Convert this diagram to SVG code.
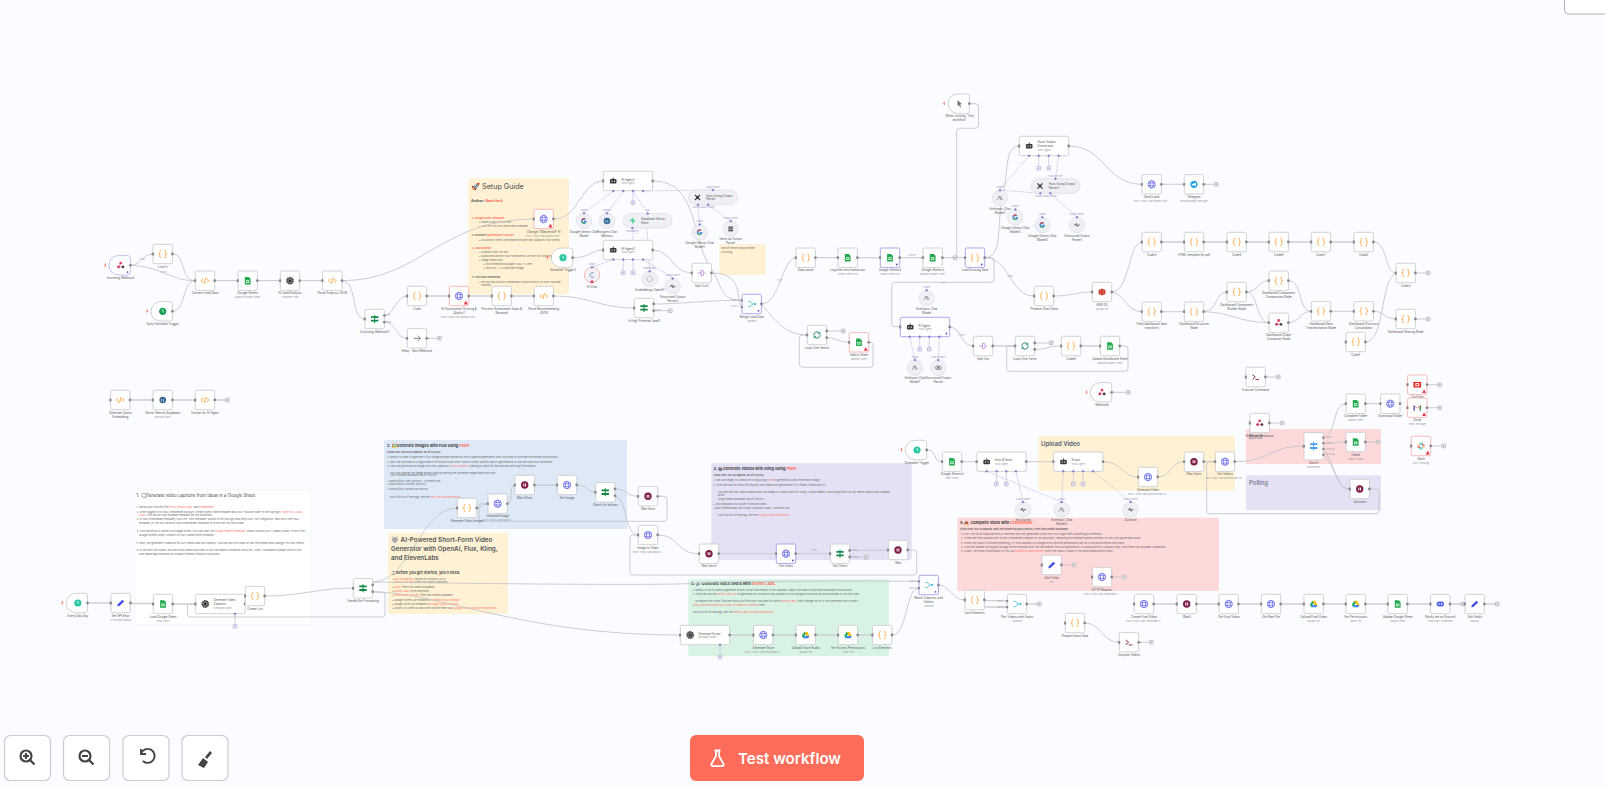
<svg xmlns="http://www.w3.org/2000/svg" width="1605" height="788" viewBox="0 0 1605 788">
<style>
text{font-family:"Inter","Liberation Sans",sans-serif}
.l{font-size:3px;fill:#555;text-anchor:middle}
.u{font-size:2.4px;fill:#999;text-anchor:middle}
.w{font-size:3px;fill:#555}
.wu{font-size:2.4px;fill:#999}
.e{font-size:2.3px;fill:#aaa;text-anchor:middle}
.k{font-size:2.2px;fill:#9a94c8;text-anchor:middle}
.t{font-size:2.65px;fill:#666}
.b{font-weight:700}
.p{fill:#ff6d5a}
.c{fill:none;stroke:#c2c4c9;stroke-width:.85}
.f{fill:none;stroke:#cfd0d4;stroke-width:1.3}
.d{fill:none;stroke:#bdb8e2;stroke-width:.8;stroke-dasharray:1.6 1.1}
.v{fill:none;stroke:#c9c9dc;stroke-width:.8}
.bx{fill:#fff;stroke:#c6c7cc;stroke-width:.8}
.pu{fill:#fff;stroke:#9c92e6;stroke-width:.8}
.re{fill:#fff;stroke:#f7a8a8;stroke-width:.8}
.ci{fill:#eff0f5;stroke:#dcdde4;stroke-width:.7}
.h{fill:#8a8b8e}
.tb{fill:#fff;stroke:#c9ccd1;stroke-width:1.2}
</style>
<defs>
<g id="hh"><rect class="h" x="-11" y="-1.4" width="2.2" height="2.8" rx=".5"/><circle class="h" cx="9.7" r="1.4"/></g>
<g id="bx"><rect class="bx" x="-9.7" y="-9.7" width="19.4" height="19.4" rx="1.3"/><use href="#hh"/></g>
<g id="bp"><rect class="pu" x="-9.7" y="-9.7" width="19.4" height="19.4" rx="1.3"/><use href="#hh"/><circle cx="6.8" cy="6.8" r=".9" fill="#5a4fd8"/></g>
<g id="br"><rect class="re" x="-9.7" y="-9.7" width="19.4" height="19.4" rx="1.3"/><use href="#hh"/><path d="M6.8 4.6l2 3.8h-4z" fill="#e8384f"/></g>
<g id="wb"><rect class="bx" x="-24.7" y="-9.7" width="49.4" height="19.4" rx="1.3"/><rect class="h" x="-26" y="-1.4" width="2.2" height="2.8" rx=".5"/><circle class="h" cx="24.7" r="1.4"/></g>
<g id="trg"><path class="bx" d="M-2-9.7H7a2.7 2.7 0 0 1 2.7 2.7V7A2.7 2.7 0 0 1 7 9.7H-2A9.7 9.7 0 0 1-2-9.7z"/><circle class="h" cx="9.7" r="1.4"/><path d="M-15.6-2l-1 2.4h1l-.6 2.2 1.8-2.8h-1l.7-1.8z" fill="#ff6d5a"/></g>
<g id="add"><rect x="-1.8" y="-1.8" width="3.6" height="3.6" rx=".5" fill="#fff" stroke="#96989e" stroke-width=".6"/><path d="M-.9 0h1.8M0-.9v1.8" stroke="#777" stroke-width=".45"/></g>
<g id="apu"><rect x="-1.8" y="-1.8" width="3.6" height="3.6" rx=".5" fill="#fff" stroke="#9a96cc" stroke-width=".6"/><path d="M-.9 0h1.8M0-.9v1.8" stroke="#8985c0" stroke-width=".45"/></g>
<path id="di" d="M0-1.5L1.5 0 0 1.5-1.5 0z" fill="#8783c6"/>
<g id="i-br" fill="none" stroke="#ff9d2e" stroke-width=".8"><path d="M-1.6-3.7c-1.6 0-1.2 1-1.2 2.2 0 1-.4 1.5-1.2 1.5.8 0 1.2.5 1.2 1.5 0 1.2-.4 2.2 1.2 2.2M1.6-3.7c1.6 0 1.2 1 1.2 2.2 0 1 .4 1.5 1.2 1.5-.8 0-1.2.5-1.2 1.5 0 1.2.4 2.2-1.2 2.2"/></g>
<g id="i-cd" fill="none" stroke="#ff9d2e" stroke-width=".9"><path d="M-1.9-2L-3.9 0l2 2M1.9-2L3.9 0l-2 2M.8-3L-.8 3"/></g>
<g id="i-sh"><path d="M-2.9-3.8H1L2.9-1.9V3.8H-2.9z" fill="#23a94f"/><rect x="-1.6" y="-.4" width="3.2" height="2.6" fill="#fff"/><rect x="-.9" y=".3" width="1.8" height="1.2" fill="#23a94f"/></g>
<g id="i-gl" fill="none" stroke="#5d62e8" stroke-width=".7"><circle r="3.7"/><ellipse rx="1.7" ry="3.7"/><path d="M-3.5-1.3h7M-3.5 1.3h7"/></g>
<g id="i-wa"><circle r="3.7" fill="#7c1c47"/><rect x="-1.4" y="-1.5" width="1" height="3" fill="#fff"/><rect x=".4" y="-1.5" width="1" height="3" fill="#fff"/></g>
<g id="i-if"><path d="M-.5-4h1v8h-1z" fill="#108a46"/><path d="M-3.7-2.8H3.7V-1H-3.7zM-3.7.8H3.7V2.6H-3.7z" fill="#108a46"/></g>
<g id="i-ai"><circle r="3.2" fill="#6a6a6a"/><circle r="3.4" fill="none" stroke="#333" stroke-width="1.1" stroke-dasharray="1 .6"/><circle r="1" fill="#222"/></g>
<g id="i-ro"><rect x="-3.3" y="-2" width="6.6" height="4.6" rx="1" fill="#3b3b3b"/><rect x="-.5" y="-3.4" width="1" height="1.4" fill="#3b3b3b"/><circle cx="-1.3" cy=".2" r=".6" fill="#fff"/><circle cx="1.3" cy=".2" r=".6" fill="#fff"/></g>
<g id="i-cl"><circle r="3.6" fill="#1f9f5c"/><path d="M0-2V0l1.2 1" fill="none" stroke="#fff" stroke-width=".7"/></g>
<g id="i-ct"><circle r="3.6" fill="#2dc7a0"/><path d="M0-2V0l1.2 1" fill="none" stroke="#fff" stroke-width=".7"/></g>
<g id="i-wh"><circle cy="-2.2" r="1.4" fill="#e0446b"/><circle cx="-2.2" cy="1.6" r="1.4" fill="#c53a6a"/><circle cx="2.2" cy="1.6" r="1.4" fill="#3a3a46"/><path d="M0-2.2L-2.2 1.6H2.2" fill="none" stroke="#d24a6c" stroke-width=".5"/></g>
<g id="i-ar" fill="none" stroke="#666" stroke-width=".8"><path d="M-3.5 0H3.3M.6-2.8L3.4 0 .6 2.8"/></g>
<g id="i-pg"><ellipse rx="3.3" ry="3.3" fill="#336791"/><path d="M-1.3-1.2v3M.8-1.2v3.5" stroke="#fff" stroke-width=".5"/></g>
<g id="i-me" fill="none" stroke="#37bdd0" stroke-width=".8"><path d="M-3.6-2.6H-1.4L1 0H3.5M-3.6 2.6H-1.4L1 0"/><circle cx="3.6" cy="0" r=".7" fill="#37bdd0"/></g>
<g id="i-sp" fill="none" stroke="#b27be3" stroke-width=".8"><path d="M-3.8 0H-.6M-.6-2.6h1.6a1 1 0 0 1 1 1V1.6a1 1 0 0 1-1 1H-.6zM3 0H4"/></g>
<g id="i-lo" fill="none" stroke="#0e7a62" stroke-width=".9"><path d="M-3.2.4A3.2 3.2 0 0 1 2.6-1.8M3.2-.4A3.2 3.2 0 0 1-2.6 1.8"/><path d="M2.9-3.4v2.1H.8M-2.9 3.4V1.3H-.8" stroke-width=".7"/></g>
<g id="i-pe"><path d="M-3.4 3.4l.6-2.2L1.7-3.3l1.7 1.7L-1.1 2.8z" fill="#3f4be6"/></g>
<g id="i-gd"><path d="M-1.4-3.3H1.4L3.8 1H1.1z" fill="#fbbc04"/><path d="M-1.4-3.3L-3.8 1l1.3 2.3L0-1z" fill="#1fa463"/><path d="M-2.5 3.3H2.5L3.8 1H-1.1z" fill="#4285f4"/></g>
<g id="i-te"><path d="M-3.3-2.4L-.4 0-3.3 2.4" fill="none" stroke="#7c1c47" stroke-width=".9"/><path d="M-.3 2.6H3.4" stroke="#7c1c47" stroke-width=".9"/></g>
<g id="i-cu"><path d="M-2.2-3.6L2.4.6.2.7 1.4 3.2.4 3.7-.8 1.2-2.2 2.6z" fill="#777"/></g>
<g id="i-aw"><path d="M-3.4-2L0-3.4 3.4-2V2L0 3.4-3.4 2z" fill="#c9402c"/><path d="M-1.2-3V3M1.2-3V3" stroke="#f0a094" stroke-width=".4"/></g>
<g id="i-tg"><circle r="3.6" fill="#2ca5e0"/><path d="M-2.2 0L2.2-1.6 1.5 2-.3.7-.9 1.6z" fill="#fff"/></g>
<g id="i-yt"><rect x="-3.8" y="-2.8" width="7.6" height="5.6" fill="#e22"/><rect x="-2" y="-1.6" width="4" height="3.2" fill="#fff"/><rect x="-.9" y="-.8" width="1.8" height="1.6" fill="#e22"/></g>
<g id="i-gm"><path d="M-3.7-2.6V2.8H-2.4V-1L0 .9 2.4-1V2.8H3.7V-2.6L0 .2z" fill="#d93025"/><path d="M-3.7-2.6V2.8H-2.4V-1z" fill="#4285f4"/><path d="M3.7-2.6V2.8H2.4V-1z" fill="#34a853"/></g>
<g id="i-sl"><path d="M-1-3.6v2.6M1 3.6V1" stroke="#36c5f0" stroke-width="1.2"/><path d="M1-3.6V-1M-1 3.6V1" stroke="#2eb67d" stroke-width="1.2"/><path d="M-3.6 1H-1M3.6-1H1" stroke="#e01e5a" stroke-width="1.2"/><path d="M-3.6-1H-1M3.6 1H1" stroke="#ecb22e" stroke-width="1.2"/></g>
<g id="i-dc"><rect x="-3.6" y="-2.5" width="7.2" height="5" rx="1.8" fill="#5865f2"/><circle cx="-1.3" r=".7" fill="#fff"/><circle cx="1.3" r=".7" fill="#fff"/></g>
<g id="i-gg"><path d="M2.6-.2H0V1H1.3A1.5 1.5 0 1 1 .9-1.3L1.8-2.2A2.8 2.8 0 1 0 2.7 0z" fill="#4285f4"/><path d="M-2.4-1.4A2.8 2.8 0 0 1 1.8-2.2L.9-1.3A1.5 1.5 0 0 0-1.3-.8z" fill="#ea4335"/><path d="M-2.5 1.3L-1.3.6A1.5 1.5 0 0 0 .9 1.3L1.7 2.2A2.8 2.8 0 0 1-2.5 1.3z" fill="#34a853"/></g>
<g id="i-an" fill="none" stroke="#666" stroke-width=".6"><path d="M-2.6 2L-.8-2 1 2M.3-2L2.4 2"/></g>
<g id="i-st"><path d="M-2.8 0h1.4l.7-1.6L.4 1.6 1.1 0h1.7" fill="none" stroke="#333" stroke-width=".7"/></g>
<g id="i-xt"><path d="M-2.6-2.6L2.6 2.6M2.6-2.6L-2.6 2.6" stroke="#333" stroke-width="1.1"/><rect x="-1.2" y="-1.2" width="2.4" height="2.4" fill="#333"/></g>
<g id="i-ls"><rect x="-2.4" y="-2.2" width="4.8" height="1.2" fill="#444"/><rect x="-2.4" y="-.4" width="4.8" height="1.2" fill="#444"/><rect x="-2.4" y="1.4" width="4.8" height="1.2" fill="#444"/></g>
<g id="i-sb"><path d="M.5-3.4V-.5H3L-.5 3.4V.5H-3z" fill="#3ecf8e"/></g>
<g id="i-em"><circle r="2.8" fill="none" stroke="#999" stroke-width=".9" stroke-dasharray=".8 .5"/></g>
<g id="i-ch"><path d="M1.8-2.2H-.6L-2.4 0-.6 2.2H1.8" fill="none" stroke="#5a64a8" stroke-width=".7"/></g>
<g id="i-ce"><ellipse rx="3" ry="1.8" fill="none" stroke="#444" stroke-width=".6"/><circle r=".9" fill="#444"/></g>
</defs>
<rect width="1605" height="788" fill="#fbfcff"/>
<g id="stickies">
<g id="sticky-setup"><rect x="468.3" y="178.3" width="100.7" height="116" rx="1" fill="#fff2d4"/>
<text x="471" y="188.5" font-size="7.2" fill="#444">🚀 Setup Guide</text>
<text x="471" y="202" font-size="3.6" fill="#555" class="b">Author: <tspan class="p">Nate Herk</tspan></text>
<text class="t b" x="472" y="219"><tspan class="p">1. Google Sheet Template</tspan></text>
<text class="t" x="479" y="223">• Make a copy of this tab 1</text>
<text class="t" x="479" y="227">• Just this you into sheet/lead template</text>
<text class="t b" x="472" y="236">2. Connect <tspan class="p">OpenRouter Account</tspan></text>
<text class="t" x="479" y="240.5">• Or use any other chat model provider that supports your needs</text>
<text class="t b" x="472" y="249"><tspan class="p">3. JSON Parser</tspan></text>
<text class="t" x="479" y="253">• Connect your API key</text>
<text class="t" x="479" y="256.7">• Duplicate/connect your Tokenizer.ai API key for scraping</text>
<text class="t" x="479" y="261">• Image model tips:</text>
<text class="t" x="483" y="265">• Your format and budget: Flux 1 = Free</text>
<text class="t" x="483" y="269">• Your Pro — 21 credit per image</text>
<text class="t b" x="472" y="278">4. YouTube Credential</text>
<text class="t" x="479" y="282.5">• Set up your OAuth2 credentials to post directly to your YouTube</text>
<text class="t" x="481" y="286">channel</text></g>
<g id="sticky-small"><rect x="719.3" y="244" width="46.4" height="31" rx=".8" fill="#fff2d4"/><text class="t" x="721" y="249">One of these should create</text><text class="t" x="721" y="252.5">Anything</text></g>
<g id="sticky-1"><rect x="135" y="490" width="176" height="135" rx="1" fill="#fff" stroke="#f0f0f2" stroke-width=".6"/>
<text x="136.5" y="497" font-size="4.3" fill="#444">1. 🗨️Generate video captions from ideas in a Google Sheet</text>
<text class="t" x="136.5" y="507.5">1. Setup your API keys for <tspan class="p">PiAPI</tspan>, <tspan class="p">Eleven Labs</tspan>, and <tspan class="p">Creatomate</tspan>.</text>
<text class="t" x="136.5" y="512.5">2. Once logged in to your Creatomate account, create a new video template and click "source code" in the top right. <tspan class="p">Paste this JSON</tspan></text>
<text class="t" x="139" y="515.5"><tspan class="p">code</tspan>. This will be your example template for this workflow.</text>
<text class="t" x="136.5" y="520.3">3. In your Creatomate template, click the "Use Template" button in the top right and then click "API Integration" and you'll see your</text>
<text class="t" x="139" y="524">template_id. Set this value as your Creatomate Template ID in the Set API Keys node.</text>
<text class="t" x="136.5" y="531.5">4. This workflow is linked to a Google Sheet, you can copy the <tspan class="p">Google Sheets Template</tspan>, simply choose File &gt; Make a Copy. Then in the</text>
<text class="t" x="139" y="535.5">Google Sheets node, connect to your copied sheet template.</text>
<text class="t" x="136.5" y="543.5">5. Next, we generate 5 captions for our videos idea with OpenAI. You can edit this node to use the prompt and change it to your needs.</text>
<text class="t" x="136.5" y="550.5">6. In the Set/Trim nodes, we use a little javascript code to turn the OpenAI response into a list. Then, it validates to make sure it's not</text>
<text class="t" x="139" y="554.5">over maxlength because an Airspace failed to follow instructions.</text></g>
<g id="sticky-2"><rect x="384" y="440" width="243" height="89" rx="1" fill="#dde9f6"/>
<text x="387" y="447" font-size="3.9" fill="#444" font-weight="700">2. 🖼️Generate images with Flux using <tspan class="p">PiAPI</tspan></text>
<text class="t b" x="387" y="452.5">(total cost: $0.0645 approx. as of 3/9/25)</text>
<text class="t" x="387" y="457.5">1. OpenAI is used to generate 5 flux image prompts based on the 5 captions generated. Edit this node to override the prompt instructions.</text>
<text class="t" x="387" y="462.5">2. Next we use Idea to Kling prompt to fit Build a Flow Story Teller's scene and for each 5 generations to use text back our Generator</text>
<text class="t" x="387" y="466.5">3. Then we generate an image with the Luma/Flux <tspan class="p">PiAPI Genome</tspan>, waiting to check for failures and retrying if necessary.</text>
<text class="t" x="390" y="473.5">You can change the image model used by editing the Generate Image node with one</text>
<text class="t" x="390" y="476">The 8 models available (as of 3/9/25):</text>
<text class="t" x="387" y="481.8">• Qubico/flux1-dev ($0.015) - Currently set</text>
<text class="t" x="387" y="485">• Qubico/flux1-schnell ($0.015)</text>
<text class="t" x="387" y="490">• Qubico/flux1-advanced ($0.02)</text>
<text class="t" x="390" y="497.5">For a full list of settings, see the <tspan class="p">Flux API Documentation</tspan>.</text></g>
<g id="sticky-gold"><rect x="388" y="532.7" width="120" height="81.3" rx="1" fill="#fff2d4"/>
<g font-size="6.3" fill="#555" font-weight="600"><text x="391" y="541.5">🐺 AI-Powered Short-Form Video</text><text x="391" y="551">Generator with OpenAI, Flux, Kling,</text><text x="391" y="560">and ElevenLabs</text></g>
<text x="391" y="573.7" font-size="3.8" fill="#444" font-weight="600">📋Before you get started, you'll need:</text>
<text class="t" x="392" y="579.6">• <tspan class="p">n8n installation</tspan> (Tested on version 1.81.4)</text>
<text class="t" x="392" y="583.3">• <tspan class="p">OpenAI API Key</tspan> (free trial credits available)</text>
<text class="t" x="392" y="587.6">• <tspan class="p">PiAPI</tspan> (free trial credits available)</text>
<text class="t" x="392" y="592">• <tspan class="p">Eleven Labs</tspan> (Free and Paid)</text>
<text class="t" x="392" y="596">• <tspan class="p">Creatomate API Key</tspan> (free trial credits available)</text>
<text class="t" x="392" y="600.6">• Google Sheets API enabled in <tspan class="p">Google Cloud Console</tspan></text>
<text class="t" x="392" y="604.6">• Google Drive API enabled in <tspan class="p">Google Cloud Console</tspan></text>
<text class="t" x="392" y="609">• OAuth 2.0 Client ID and Client Secret from your <tspan class="p">Google Cloud Console Credentials</tspan></text></g>
<g id="sticky-3"><rect x="711.3" y="463.3" width="200.4" height="96.7" rx="1" fill="#e5e1f4"/>
<text x="713.5" y="470" font-size="3.9" fill="#444" font-weight="700">3. 🎬Generate videos with Kling using <tspan class="p">PiAPI</tspan></text>
<text class="t b" x="713.5" y="475.7">(total cost: $2.00 approx. as of 3/9/25)</text>
<text class="t" x="713.5" y="481">1. We use image-to-video with Kling using <tspan class="p">PiAPI</tspan> to generate a video from each image.</text>
<text class="t" x="713.5" y="486">2. Then we wait to check for failures, and repeat the generation if it's failed 3 times we try.</text>
<text class="t" x="718" y="492.7">You can edit the video duration and the image-to-video costs for Kling. 5 Send makes it work/long from you for better quality and cheaper</text>
<text class="t" x="718" y="496">price.</text>
<text class="t" x="718" y="499.7">Kling models available (as of 3/9/25):</text>
<text class="t" x="713.5" y="505">• std (Standard) $0.20 per 5 second video</text>
<text class="t" x="713.5" y="508.7">• pro (Professional) $0.45 per 5 second video - Currently set</text>
<text class="t" x="718" y="516">For a full list of settings, see the <tspan class="p">Kling API Documentation</tspan>.</text></g>
<g id="sticky-4"><rect x="688.3" y="579.3" width="200.7" height="76.7" rx="1" fill="#d8f3e4"/>
<text x="691" y="585" font-size="3.9" fill="#444" font-weight="700">4. 🔊 Generate voice overs with <tspan class="p">Eleven Labs.</tspan></text>
<text class="t" x="692.5" y="591">1. OpenAI's API is used to generate a story script that relates to the captions. Open this node to override the prompt instructions.</text>
<text class="t" x="692.5" y="595">2. Then we use the <tspan class="p">Eleven Labs API</tspan> to generate the voiceover and upload it to our Google Drive and can be accessed in the next step.</text>
<text class="t" x="695" y="602">To replace the voice, find the voice ID of the story you want to use in <tspan class="p">Eleven Labs</tspan>, then change the ID in the Generate Voice node's</text>
<text class="t" x="693" y="606"><tspan class="p">https://api.elevenlabs.io/v1/text-to-speech/{voiceID}</tspan> here.</text>
<text class="t" x="693" y="612.7">For a full list of settings, see the <tspan class="p">Eleven Labs API Documentation</tspan>.</text></g>
<g id="sticky-5"><rect x="957.3" y="517.7" width="261.7" height="73.3" rx="1" fill="#fdd9da"/>
<text x="960" y="523.5" font-size="3.9" fill="#444" font-weight="700">5. 📤 Complete video with <tspan class="p">Creatomate</tspan></text>
<text class="t b" x="960" y="529.7">(total cost: $0.40 approx. with the Essential plan credits | Free trial credits available)</text>
<text class="t" x="961" y="535.2">1. First, the list of videos/photos is matched with the generated voice over in a single item containing all elements.</text>
<text class="t" x="961" y="539.2">2. These are then passed over to the Creatomate template ID you provided, replacing the template options relevant to with your generated voice.</text>
<text class="t" x="961" y="544.2">3. When the video is finished rendering, it'll then upload it to Google Drive and the permissions set so it can be accessed with ease.</text>
<text class="t" x="961" y="548">4. Then we update the original Google Sheet template with the information from our generation, including Eleven's Caption copy, then email the uploader completed.</text>
<text class="t" x="961" y="551.6">5. Finally, we send a notification to you via <tspan class="p">Discord or Slack Server</tspan> when the video is ready in the downloaded and to sent.</text></g>
<g id="sticky-upload"><rect x="1038.3" y="436" width="196.7" height="54.7" rx="1" fill="#fff2d4"/><text x="1041" y="445.5" font-size="6" fill="#505a6e" font-weight="600">Upload Video</text></g>
<g id="sticky-error"><rect x="1246" y="429" width="135" height="35" rx=".5" fill="#fdd9da"/><text x="1249" y="438.5" font-size="6" fill="#505a6e">Error</text></g>
<g id="sticky-polling"><rect x="1246" y="475.3" width="135" height="34.7" rx=".5" fill="#e5e1f4"/><text x="1249" y="484.5" font-size="6" fill="#505a6e">Polling</text></g>
</g>
<g id="connectors">
<path class="c" d="M130.4 265.3C142 265 142 254 153 254M130.4 265.3C160 266 170 280.7 195 280.7M172.7 254C186 254 180 280.7 195 280.7M172.7 311.3C186 311 182 280.7 195 280.7"/>
<path class="f" d="M214.7 280.7H238M257.4 280.7H280M299.7 280.7H322.6"/>
<path class="c" d="M342 280.7C420 280.7 440 219 534 219M342 280.7C358 281 350 319 365 319M384.4 315.5C394 315 396 296 407 296M384.4 322C396 322 396 338.3 407 338.3M426.7 338.3H438"/>
<path class="f" d="M426.7 296H449M468.7 296H492M511.4 296H534"/>
<path class="c" d="M553.4 296C590 296 600 308 634 308M553.4 219C580 219 580 181 603.7 181M572.7 257.7C590 258 590 250 603.7 250M652.7 181C700 181 690 240 712 270C724 290 720 300 742 300.3M652.7 250C672 250 672 273 692 273M711.4 273C745 273 735 300 742 307M653.7 304C680 304 710 300 742 300.3M653.7 310.7H668.5"/>
<path class="c" d="M761.4 304C780 304 782 257.7 796 257.7M761.4 304C775 320 785 335 807 335M826.7 331H841.5M826.7 337.7C838 338 838 342.3 849.4 342.3"/>
<path class="c" d="M868.6 342.3H870Q873 342.3 873 345V364Q873 367.3 870 367.3H803Q799.3 367.3 799.3 364V338Q799.3 335 803 335H807"/>
<path class="f" d="M815.4 257.7H838M857.4 257.7H880M899.7 257.7H923M942.4 257.7H965"/>
<path class="c" d="M969.3 103.7H975.5Q978.5 103.7 978.5 107V125.3Q978.5 128.3 975.5 128.3H959.7Q956.7 128.3 956.7 131.3V257.7"/>
<path class="c" d="M984.7 257.7C1005 257 995 220 1004 190C1008 170 1005 146 1019.3 146M984.7 257.7H991Q994 257.7 994 261V279.3Q994 282.3 991 282.3H894.7Q891.7 282.3 891.7 285.3V323.7Q891.7 326.7 894.7 326.7H900.3M984.7 257.7C1010 258 1010 296 1034 296"/>
<path class="c" d="M1053.7 296C1070 296 1078 292 1092 292M1111.7 292C1130 292 1128 242 1142 242M1111.7 292C1126 295 1126 311.7 1142 311.7M1161.4 311.7H1184.3M1068.7 146C1105 146 1105 184.3 1142 184.3M1161.4 184.3H1184.3M1203.7 184.3H1214.5"/>
<path class="f" d="M1161.4 242H1184.3M1203.7 242H1227M1246.4 242H1269M1288.4 242H1311M1330.7 242H1354"/>
<path class="c" d="M1373.4 242C1388 242 1384 273 1396 273M1415.4 273H1426.5M1203.7 311.7C1218 311 1215 292 1227 292M1203.7 311.7C1230 312 1240 322.7 1269 322.7M1246.4 292C1258 292 1258 280.7 1269 280.7M1246.4 292C1258 292 1256 322.7 1269 322.7M1288.4 280.7C1303 281 1298 311.3 1311 311.3M1288.4 322.7C1300 322.7 1300 311.3 1311 311.3M1330.7 311.3H1354M1373.4 311.3C1385 311.3 1384 319 1396 319M1415.4 319H1426.5M1365.4 342C1385 342 1380 280 1396 273"/>
<path class="c" d="M949.3 327C962 327 960 346 973 346M1034.7 343H1049.5M1034.7 349.5C1048 349 1048 346 1061 346"/>
<path class="f" d="M992.7 346H1015M1080.7 346H1100.3"/>
<path class="c" d="M1119.7 346H1125Q1128 346 1128 349V368.3Q1128 371.3 1125 371.3H1009.7Q1006.7 371.3 1006.7 368.3V349Q1006.7 346 1009.7 346H1015"/>
<path class="c" d="M926.7 450C938 450 932 461.7 942 461.7M961.7 461.7H977M1026 461.7H1053.7M1103 461.7C1122 461.7 1122 477 1138 477M1157.7 477C1172 477 1170 461.7 1184.4 461.7M1203.7 461.7H1215.3M1234.7 461.7C1270 461.7 1270 446 1304 446"/>
<path class="c" d="M1323.4 437.7C1336 437 1332 403.7 1346 403.7M1323.4 443.3C1335 443 1335 442 1346 442M1323.4 449C1338 470 1336 489 1350 489M1323.4 454.7C1338 470 1336 489 1350 489"/>
<path class="f" d="M1365.4 403.7H1381M1365.4 442H1376.5"/>
<path class="c" d="M1369.4 489H1376Q1379 489 1379 492V510.7Q1379 513.7 1376 513.7H1209.7Q1206.7 513.7 1206.7 510.7V464.7Q1206.7 461.7 1209.7 461.7H1215.3"/>
<path class="c" d="M372.7 582C410 582 420 508 457 508M476.7 508C482 508 482 503.7 488 503.7M507.4 503.7C514 503.7 508 485 515 485M576.7 485C588 485 586 492.3 595.7 492.3M615 489C628 489 626 496.3 638.3 496.3M615 495.7C628 500 624 535 638.3 535M657.7 535C680 535 675 553.7 699.4 553.7M849.7 550.5L888.3 550M849.7 557H864.5"/>
<path class="f" d="M534.4 485H557.3M718.7 553.7H776.3M795.7 553.7H830.3"/>
<path class="c" d="M657.7 496.3H664Q667 496.3 667 499.3V518.3Q667 521.3 664 521.3H482Q479 521.3 479 518.3V506.7Q479 503.7 482 503.7H488"/>
<path class="c" d="M907.7 550H913.7Q916.7 550 916.7 553V572Q916.7 575 913.7 575H633Q630 575 630 572V538Q630 535 633 535H638.3"/>
<path class="c" d="M372.7 582C500 584 700 586 700 582.5C780 581 850 581 919 581.3M372.7 592C440 592 520 635 680.3 635M892 635C908 635 905 588 919 588M938.4 585C950 585 952 600 965 600"/>
<path class="c" d="M372.7 592H382Q385 592 385 595V614Q385 617 382 617H190.3Q187.3 617 187.3 614V607Q187.3 604 190.3 604H195.7"/>
<path class="f" d="M729.7 635H753.6M773 635H796M815.4 635H838.3M857.7 635H872.6M984.4 600.7H1007.4M984.4 607H1007.4M1026.7 604H1037.5M87.4 603H111M130.4 603.5H153.3M172.7 604H195.7"/>
<path class="c" d="M264.7 596C300 596 320 588 353.3 588M235 613.7V624.5"/>
<path class="f" d="M130 400H153M172.4 400H195.3M214.7 400H225.5M1153.7 604H1177M1196.4 604H1219M1238.4 604H1261.3M1280.7 604H1304M1323.4 604H1346M1365.4 604H1388M1407.4 604H1430.7M1450 604H1461M1464.5 604H1465M1484.4 604H1495.5"/>
<path class="c" d="M1084.7 623C1102 623 1102 642.3 1119 642.3M1138.7 642.3H1149.5M1265.4 377H1276.5M1269.4 423H1280.5M1061.4 565H1072.5M1111.7 577H1122.5M1427 384.7H1438M1427 407.7H1438M1430.7 446H1442M1111.7 392.3H1126.5"/>
<path class="d" d="M613.3 191L584 213M623.3 191L607 213M633 191L647.7 213M643 191L713 190M613.3 259.5L592 267.4M643 259.5L672.7 278M633 228V240M698 204.7L699.7 224.6M708 204.7L730.7 221M1029 155.7L1000 190M1058.7 155.7L1055.3 178.7M1040.3 193.3L1000 190M1050.3 193.3L1077 217.3M909.7 336.7L915 360M939.3 336.7L938.3 360M986.7 471.3L1061.7 502M1016 471.3L1023 502M1063.3 471.3L1061.7 502M1093 471.3L1130.7 502M649.7 271.7L647 228"/>
<path class="v" d="M633 191V201M623.3 259.5V271M633 259.5V271M1038.7 155.7V166.5M1048.7 155.7V166.5M919.7 336.7V347.5M929.3 336.7V347.5M996.7 471.3V482M1006.3 471.3V482M1073.3 471.3V482M1083 471.3V482M720 644V655"/>
<g id="edge-labels">
<text class="e" x="141.7" y="259.7">1 item</text><text class="e" x="163.3" y="273.4">1 item</text><text class="e" x="388" y="316.4">true</text><text class="e" x="389" y="323">false</text><text class="e" x="779.3" y="281.4">True</text><text class="e" x="735" y="300.7">Input 1</text><text class="e" x="735" y="307.4">Input 2</text><text class="e" x="658" y="311.4">False</text><text class="e" x="911.7" y="255.7">3 items</text><text class="e" x="1010" y="277.4">False</text><text class="e" x="942.7" y="283.7">True</text><text class="e" x="961.7" y="336.4">1 item</text><text class="e" x="813.3" y="551.4">1 item</text><text class="e" x="855" y="551.4">true</text><text class="e" x="855" y="558">false</text><text class="e" x="913" y="582">Input 1</text><text class="e" x="912.7" y="588.7">Input 2</text><text class="e" x="1000.7" y="601.7">Input 1</text><text class="e" x="1000.7" y="607.7">Input 2</text><text class="e" x="1329" y="438.4">Done</text><text class="e" x="1329" y="444">Failed</text><text class="e" x="1330" y="449.7">Running</text><text class="e" x="1330" y="455.4">Pending</text></g>
</g>
<g id="nodes">
<g id="n-webhook-in" transform="translate(120.7,265.3)"><path d="M-2-9.7H7a2.7 2.7 0 0 1 2.7 2.7V7A2.7 2.7 0 0 1 7 9.7H-2A9.7 9.7 0 0 1-2-9.7z" fill="#fff" stroke="#b9b1ee" stroke-width=".8"/><circle class="h" cx="9.7" r="1.4"/><path d="M-15.6-2l-1 2.4h1l-.6 2.2 1.8-2.8h-1l.7-1.8z" fill="#ff6d5a"/><circle cx="6.8" cy="6.8" r=".9" fill="#5a4fd8"/><use href="#i-wh"/><text class="l" y="13.7">Incoming Webhook</text></g>
<g id="n-limit" transform="translate(162.7,254)"><use href="#bx"/><use href="#i-br"/><text class="l" y="13.7">Limit It</text></g>
<g id="n-daily" transform="translate(162.7,311.3)"><use href="#trg"/><use href="#i-cl"/><text class="l" y="13.7">Daily Schedule Trigger</text></g>
<g id="n-convert" transform="translate(205,280.7)"><use href="#bx"/><use href="#i-cd"/><text class="l" y="13.7">Convert Lead Data</text></g>
<g id="n-sheets1" transform="translate(247.7,280.7)"><use href="#bx"/><use href="#i-sh"/><text class="l" y="13.7">Google Sheets</text><text class="u" y="17.7">append/Update: sheet</text></g>
<g id="n-ai-lead" transform="translate(290,280.7)"><use href="#bx"/><use href="#i-ai"/><text class="l" y="13.7">AI Lead Analysis</text><text class="u" y="17.7">complete: chat</text></g>
<g id="n-parse" transform="translate(332.3,280.7)"><use href="#bx"/><use href="#i-cd"/><text class="l" y="13.7">Parse Analysis JSON</text></g>
<g id="n-if-existing" transform="translate(374.7,319)"><rect class="bx" x="-9.7" y="-9.7" width="19.4" height="19.4" rx="1.3"/><rect class="h" x="-11" y="-1.4" width="2.2" height="2.8"/><circle class="h" cx="9.7" cy="-3.4" r="1.4"/><circle class="h" cx="9.7" cy="3.2" r="1.4"/><use href="#i-if"/><text class="l" y="13.7">Is Existing Webhook?</text></g>
<g id="n-code-a" transform="translate(417,296)"><use href="#bx"/><use href="#i-br"/><text class="l" y="13.7">Code</text></g>
<g id="n-assess" transform="translate(459,296)"><use href="#br"/><use href="#i-gl"/><text class="l" y="13.7">AI Assessment Scoring &amp;</text><text class="l" y="17.7">Quality?</text><text class="u" y="21.7">POST: https://api.openai.com/...</text></g>
<g id="n-process" transform="translate(501.7,296)"><use href="#bx"/><use href="#i-br"/><text class="l" y="13.7">Process Assessment Input &amp;</text><text class="l" y="17.7">Respond</text></g>
<g id="n-parse-rec" transform="translate(543.7,296)"><use href="#bx"/><use href="#i-cd"/><text class="l" y="13.7">Parse Recommending</text><text class="l" y="17.7">JSON</text></g>
<g id="n-relay" transform="translate(417,338.3)"><use href="#bx"/><use href="#i-ar"/><text class="l" y="13.7">Relay - Non Webhook</text></g>
<use href="#add" x="439.6" y="338.3"/>
<g id="n-query" transform="translate(120.3,400)"><use href="#bx"/><use href="#i-cd"/><text class="l" y="13.7">Generate Query</text><text class="l" y="17.7">Embedding</text></g>
<g id="n-vector" transform="translate(162.7,400)"><use href="#bx"/><use href="#i-pg"/><text class="l" y="13.7">Vector Search/Supabase</text><text class="u" y="17.7">Execute Query</text></g>
<g id="n-format" transform="translate(205,400)"><use href="#bx"/><use href="#i-cd"/><text class="l" y="13.7">Format for AI Agent</text></g>
<use href="#add" x="227.3" y="400"/>
<g id="n-change1" transform="translate(543.7,219)"><use href="#br"/><use href="#i-gl"/><text class="l" y="13.7">Change 1 Mastercall? AI</text><text class="u" y="17.7">POST: https://api.openai.com/...</text></g>
<g id="n-schedule2" transform="translate(563,257.7)"><use href="#trg"/><use href="#i-ct"/><text class="l" y="13.7">Schedule Trigger2</text></g>
<g id="n-agent1" transform="translate(628,181)"><use href="#wb"/><use href="#i-ro" x="-14.8"/><text class="w" x="-6.8" y="-.5">AI Agent1</text><text class="wu" x="-6.8" y="3.4">Tools Agent</text></g>
<g id="n-agent2" transform="translate(628,250)"><use href="#wb"/><use href="#i-ro" x="-14.8"/><text class="w" x="-6.8" y="-.5">AI Agent2</text><text class="wu" x="-6.8" y="3.4">Tools Agent</text></g>
<g id="n-gem1" transform="translate(584,221)"><circle class="ci" r="7.7"/><use href="#i-gg"/><use href="#di" y="-7.7"/><text class="k" y="-10">Model</text><text class="l" y="11.5">Google Gemini Chat</text><text class="l" y="15.5">Model</text></g>
<g id="n-mem1" transform="translate(607,221)"><circle class="ci" r="7.7"/><use href="#i-pg"/><use href="#di" y="-7.7"/><text class="k" y="-10">Memory</text><text class="l" y="11.5">Postgres Chat</text><text class="l" y="15.5">Memory</text></g>
<g id="n-vec" transform="translate(647.7,220.7)"><rect class="ci" x="-24.4" y="-7.3" width="48.8" height="14.6" rx="7.3"/><use href="#i-sb" x="-15"/><text class="w" x="-6.8" y="-.8">Supabase Vector</text><text class="w" x="-6.8" y="3">Store</text><use href="#di" y="-7.3" x="0"/><use href="#di" x="-15.4" y="7.3"/><text class="k" x="0" y="-9.5">Tool</text><text class="k" x="-15" y="11">Embedding*</text></g>
<g id="n-autofix" transform="translate(713,197.4)"><rect class="ci" x="-24.7" y="-7.3" width="49.4" height="14.6" rx="7.3"/><use href="#i-xt" x="-15.5"/><text class="w" x="-6.8" y="-.8">Auto-fixing Output</text><text class="w" x="-6.8" y="3">Parser</text><use href="#di" y="-7.3"/><use href="#di" x="-15" y="7.3"/><use href="#di" x="-5" y="7.3"/><text class="k" y="-9.5">Output Parser</text><text class="k" x="-9" y="10.6">Model Output Parser*</text></g>
<g id="n-gem1b" transform="translate(699.7,232.3)"><circle class="ci" r="7.7"/><use href="#i-gg"/><use href="#di" y="-7.7"/><text class="k" y="-10">Model</text><text class="l" y="11.5">Google Gemini Chat</text><text class="l" y="15.5">Model1</text></g>
<g id="n-items" transform="translate(730.7,228.7)"><circle class="ci" r="7.7"/><use href="#i-ls"/><use href="#di" y="-7.7"/><text class="k" y="-10">Output Parser</text><text class="l" y="11.5">Items as Output</text><text class="l" y="15.5">Parser</text></g>
<g id="n-split1" transform="translate(701.7,273)"><use href="#bx"/><use href="#i-sp"/><text class="l" y="13.7">Split Out1</text></g>
<g id="n-aichat" transform="translate(592,275)"><circle r="7.7" fill="#f3f3f7" stroke="#f7a8a8" stroke-width=".8"/><use href="#i-ch"/><path d="M0 4.5l2 3.5h-4z" fill="#e8384f"/><use href="#di" y="-7.7"/><text class="k" y="-10">Model</text><text class="l" y="12.5">AI Chat</text></g>
<g id="n-embed" transform="translate(649.7,279)"><circle class="ci" r="7.7"/><use href="#i-em"/><use href="#di" y="-7.7"/><text class="k" y="-10">Embeddings</text><text class="l" y="11.5">Embeddings OpenAI</text></g>
<g id="n-struct1" transform="translate(672.7,286.3)"><circle class="ci" r="7.7"/><use href="#i-st"/><use href="#di" y="-7.7"/><text class="k" y="-10">Output Parser</text><text class="l" y="11.5">Structured Output</text><text class="l" y="15.5">Parser2</text></g>
<g id="n-ishigh" transform="translate(644,308)"><rect class="bx" x="-9.7" y="-9.7" width="19.4" height="19.4" rx="1.3"/><rect class="h" x="-11" y="-1.4" width="2.2" height="2.8"/><circle class="h" cx="9.7" cy="-4" r="1.4"/><circle class="h" cx="9.7" cy="2.7" r="1.4"/><use href="#i-if"/><text class="l" y="13.7">Is High Potential Lead?</text></g>
<use href="#add" x="670.3" y="310.7"/>
<g id="n-merge1" transform="translate(751.7,304)"><rect class="pu" x="-9.7" y="-9.7" width="19.4" height="19.4" rx="1.3"/><rect class="h" x="-11" y="-4.7" width="2.2" height="2.2"/><rect class="h" x="-11" y="2" width="2.2" height="2.2"/><circle class="h" cx="9.7" r="1.4"/><circle cx="6.8" cy="6.8" r=".9" fill="#5a4fd8"/><use href="#i-me"/><text class="l" y="13.7">Merge Lead Data</text><text class="u" y="17.7">append</text></g>
<g id="n-dataparse" transform="translate(805.7,257.7)"><use href="#bx"/><use href="#i-br"/><text class="l" y="13.7">Data parse</text></g>
<g id="n-log" transform="translate(847.7,257.7)"><use href="#bx"/><use href="#i-sh"/><text class="l" y="13.7">Log Interview Interaction</text><text class="u" y="17.7">create: sheet/row</text></g>
<g id="n-loop1" transform="translate(817,335)"><rect class="bx" x="-9.7" y="-9.7" width="19.4" height="19.4" rx="1.3"/><rect class="h" x="-11" y="-1.4" width="2.2" height="2.8"/><circle class="h" cx="9.7" cy="-4" r="1.4"/><circle class="h" cx="9.7" cy="2.7" r="1.4"/><use href="#i-lo"/><text class="l" y="13.7">Loop Over Items1</text></g>
<use href="#add" x="843.3" y="331"/>
<g id="n-addsheet" transform="translate(859,342.3)"><use href="#br"/><use href="#i-sh"/><text class="l" y="13.7">Add to Sheet</text><text class="u" y="17.7">append: sheet</text></g>
<g id="n-click" transform="translate(959.7,103.7)"><use href="#trg"/><use href="#i-cu"/><text class="l" y="13.7">When clicking "Test</text><text class="l" y="17.7">workflow"</text></g>
<g id="n-voice" transform="translate(1044,146)"><use href="#wb"/><use href="#i-ro" x="-14.8"/><text class="w" x="-6.8" y="-3">Voice Output</text><text class="w" x="-6.8" y=".8">Conversion</text><text class="wu" x="-6.8" y="4.6">Tools Agent</text></g>
<g id="n-autofix1" transform="translate(1055.5,186)"><rect class="ci" x="-24.5" y="-7.3" width="49" height="14.6" rx="7.3"/><use href="#i-xt" x="-15.5"/><text class="w" x="-6.8" y="-.8">Auto-fixing Output</text><text class="w" x="-6.8" y="3">Parser1</text><use href="#di" y="-7.3"/><use href="#di" x="-15.2" y="7.3"/><use href="#di" x="-5.2" y="7.3"/><text class="k" y="-9.5">Output Parser</text><text class="k" x="-9" y="10.6">Model Output Parser*</text></g>
<g id="n-anth1" transform="translate(1000,198)"><circle class="ci" r="7.7"/><use href="#i-an"/><use href="#di" y="-7.7"/><text class="k" y="-10">Model</text><text class="l" y="11.5">Anthropic Chat</text><text class="l" y="15.5">Model2</text></g>
<g id="n-gem2" transform="translate(1015.3,217.3)"><circle class="ci" r="7.7"/><use href="#i-gg"/><use href="#di" y="-7.7"/><text class="k" y="-10">Model</text><text class="l" y="11.5">Google Gemini Chat</text><text class="l" y="15.5">Model3</text></g>
<g id="n-gem3" transform="translate(1042.3,225)"><circle class="ci" r="7.7"/><use href="#i-gg"/><use href="#di" y="-7.7"/><text class="k" y="-10">Model</text><text class="l" y="11.5">Google Gemini Chat</text><text class="l" y="15.5">Model4</text></g>
<g id="n-struct2" transform="translate(1077,225)"><circle class="ci" r="7.7"/><use href="#i-st"/><use href="#di" y="-7.7"/><text class="k" y="-10">Output Parser</text><text class="l" y="11.5">Structured Output</text><text class="l" y="15.5">Parser1</text></g>
<g id="n-sheets2" transform="translate(890,257.7)"><use href="#bp"/><use href="#i-sh"/><text class="l" y="13.7">Google Sheets2</text><text class="u" y="17.7">create: sheet/row</text></g>
<g id="n-sheets3" transform="translate(932.7,257.7)"><use href="#bx"/><use href="#i-sh"/><text class="l" y="13.7">Google Sheets3</text><text class="u" y="17.7">append/Update: sheet</text></g>
<use href="#add" x="955" y="257.7"/>
<g id="n-load" transform="translate(975,257.7)"><use href="#bp"/><use href="#i-br"/><text class="l" y="13.7">Load Existing Data</text></g>
<g id="n-send" transform="translate(1151.7,184.3)"><use href="#bx"/><use href="#i-gl"/><text class="l" y="13.7">Send Lead</text><text class="u" y="17.7">POST: https://api.openai.com/...</text></g>
<g id="n-telegram" transform="translate(1194,184.3)"><use href="#bx"/><use href="#i-tg"/><text class="l" y="13.7">Telegram</text><text class="u" y="17.7">sendMessage: message</text></g>
<use href="#add" x="1216.3" y="184.3"/>
<g id="n-code3" transform="translate(1151.7,242)"><use href="#bx"/><use href="#i-br"/><text class="l" y="13.7">Code3</text></g>
<g id="n-code5" transform="translate(1194,242)"><use href="#bx"/><use href="#i-br"/><text class="l" y="13.7">HTML template for pdf</text></g>
<g id="n-code6" transform="translate(1236.7,242)"><use href="#bx"/><use href="#i-br"/><text class="l" y="13.7">Code5</text></g>
<g id="n-code7" transform="translate(1278.7,242)"><use href="#bx"/><use href="#i-br"/><text class="l" y="13.7">Code6</text></g>
<g id="n-code8" transform="translate(1321,242)"><use href="#bx"/><use href="#i-br"/><text class="l" y="13.7">Code7</text></g>
<g id="n-code9" transform="translate(1363.7,242)"><use href="#bx"/><use href="#i-br"/><text class="l" y="13.7">Code2</text></g>
<g id="n-code4" transform="translate(1405.7,273)"><use href="#bx"/><use href="#i-br"/><text class="l" y="13.7">Code4</text></g>
<use href="#add" x="1428.3" y="273"/>
<g id="n-prepare" transform="translate(1044,296)"><use href="#bx"/><use href="#i-br"/><text class="l" y="13.7">Prepare Chart Data</text></g>
<g id="n-aws" transform="translate(1102,292)"><use href="#bx"/><use href="#i-aw"/><text class="l" y="13.7">AWS S3</text><text class="u" y="17.7">upload: file</text></g>
<g id="n-filter" transform="translate(1151.7,311.7)"><use href="#bx"/><use href="#i-br"/><text class="l" y="13.7">Filter/dashboard data</text><text class="l" y="17.7">transform</text></g>
<g id="n-struct" transform="translate(1194,311.7)"><use href="#bx"/><use href="#i-br"/><text class="l" y="13.7">Dashboard Structure</text><text class="l" y="17.7">Node</text></g>
<g id="n-builder" transform="translate(1236.7,292)"><use href="#bx"/><use href="#i-br"/><text class="l" y="13.7">Dashboard Component</text><text class="l" y="17.7">Builder Node</text></g>
<g id="n-comp" transform="translate(1278.7,280.7)"><use href="#bx"/><use href="#i-br"/><text class="l" y="13.7">Dashboard Component</text><text class="l" y="17.7">Composition Node</text></g>
<g id="n-graph" transform="translate(1278.7,322.7)"><use href="#bx"/><use href="#i-wh"/><text class="l" y="13.7">Dashboard Graph</text><text class="l" y="17.7">Composer Node</text></g>
<g id="n-trans" transform="translate(1321,311.3)"><use href="#bx"/><use href="#i-br"/><text class="l" y="13.7">Dashboard Data</text><text class="l" y="17.7">Transformation Node</text></g>
<g id="n-struct3" transform="translate(1363.7,311.3)"><use href="#bx"/><use href="#i-br"/><text class="l" y="13.7">Dashboard Structure</text><text class="l" y="17.7">Consolidator</text></g>
<g id="n-sharing" transform="translate(1405.7,319)"><use href="#bx"/><use href="#i-br"/><text class="l" y="13.7">Dashboard Sharing Node</text></g>
<use href="#add" x="1428.3" y="319"/>
<g id="n-code1" transform="translate(1355.7,342)"><use href="#bx"/><use href="#i-br"/><text class="l" y="13.7">Code1</text></g>
<g id="n-agent" transform="translate(925,327)"><rect class="pu" x="-24.7" y="-9.7" width="49.4" height="19.4" rx="1.3"/><rect class="h" x="-26" y="-1.4" width="2.2" height="2.8"/><circle class="h" cx="24.7" r="1.4"/><circle cx="21.5" cy="6.5" r=".9" fill="#5a4fd8"/><use href="#i-ro" x="-14.8"/><text class="w" x="-6.8" y="-.5">AI Agent</text><text class="wu" x="-6.8" y="3.4">Tools Agent</text></g>
<g id="n-anth2" transform="translate(926.7,298)"><circle class="ci" r="7.7"/><use href="#i-an"/><use href="#di" y="-7.7"/><text class="k" y="-10">Model</text><text class="l" y="11.5">Anthropic Chat</text><text class="l" y="15.5">Model</text></g>
<g id="n-anth3" transform="translate(915,367.7)"><circle class="ci" r="7.7"/><use href="#i-an"/><use href="#di" y="-7.7"/><text class="k" y="-10">Model</text><text class="l" y="11.5">Anthropic Chat</text><text class="l" y="15.5">Model1</text></g>
<g id="n-struct4" transform="translate(938.3,367.7)"><circle class="ci" r="7.7"/><use href="#i-ce"/><use href="#di" y="-7.7"/><text class="k" y="-10">Output Parser</text><text class="l" y="11.5">Structured Output</text><text class="l" y="15.5">Parser</text></g>
<g id="n-split" transform="translate(983,346)"><use href="#bx"/><use href="#i-sp"/><text class="l" y="13.7">Split Out</text></g>
<g id="n-loop" transform="translate(1025,346)"><rect class="bx" x="-9.7" y="-9.7" width="19.4" height="19.4" rx="1.3"/><rect class="h" x="-11" y="-1.4" width="2.2" height="2.8"/><circle class="h" cx="9.7" cy="-3" r="1.4"/><circle class="h" cx="9.7" cy="3.5" r="1.4"/><use href="#i-lo"/><text class="l" y="13.7">Loop Over Items</text></g>
<use href="#add" x="1051.3" y="342.7"/>
<g id="n-codeb" transform="translate(1071,346)"><use href="#bx"/><use href="#i-br"/><text class="l" y="13.7">Code8</text></g>
<g id="n-update" transform="translate(1110,346)"><use href="#bx"/><use href="#i-sh"/><text class="l" y="13.7">Update Dashboard Sheet</text><text class="u" y="17.7">append/Update: sheet</text></g>
<g id="n-exec" transform="translate(1255.7,377)"><use href="#bx"/><use href="#i-te"/><text class="l" y="13.7">Execute Command</text></g>
<use href="#add" x="1278.3" y="377"/>
<g id="n-webhook" transform="translate(1102,392.3)"><use href="#trg"/><use href="#i-wh"/><text class="l" y="13.7">Webhook</text></g>
<use href="#add" x="1128.3" y="392.3"/>
<g id="n-trigger" transform="translate(917,450)"><use href="#trg"/><use href="#i-ct"/><text class="l" y="13.7">Schedule Trigger</text></g>
<g id="n-gs" transform="translate(952,461.7)"><use href="#bx"/><use href="#i-sh"/><text class="l" y="13.7">Google Sheets4</text><text class="u" y="17.7">read: sheet</text></g>
<g id="n-intro" transform="translate(1001.5,461.7)"><use href="#wb"/><use href="#i-ro" x="-14.8"/><text class="w" x="-6.8" y="-.5">Intro &amp; Hook</text><text class="wu" x="-6.8" y="3.4">Tools Agent</text></g>
<g id="n-script" transform="translate(1078.3,461.7)"><use href="#wb"/><use href="#i-ro" x="-14.8"/><text class="w" x="-6.8" y="-.5">Script</text><text class="wu" x="-6.8" y="3.4">Tools Agent</text></g>
<g id="n-genvid" transform="translate(1148,477)"><use href="#bx"/><use href="#i-gl"/><text class="l" y="13.7">Generate Video</text><text class="u" y="17.7">POST: https://api.pexelshunter.co...</text></g>
<g id="n-waitsw" transform="translate(1194,461.7)"><use href="#bx"/><use href="#i-wa"/><text class="l" y="13.7">Wait Swim</text></g>
<g id="n-getvid" transform="translate(1225,461.7)"><use href="#bx"/><use href="#i-gl"/><text class="l" y="13.7">Get Videos</text><text class="u" y="17.7">GET: https://api.pexelshunter.co...</text></g>
<g id="n-struct5" transform="translate(1023,509.7)"><circle class="ci" r="7.7"/><use href="#i-st"/><use href="#di" y="-7.7"/><text class="k" y="-10">Output Parser</text><text class="l" y="11.5">Structured</text></g>
<g id="n-anth4" transform="translate(1061.7,509.7)"><circle class="ci" r="7.7"/><use href="#i-an"/><use href="#di" y="-7.7"/><text class="k" y="-10">Model</text><text class="l" y="11.5">Anthropic Chat</text><text class="l" y="15.5">Model3</text></g>
<g id="n-duration" transform="translate(1130.7,509.7)"><circle class="ci" r="7.7"/><use href="#i-st"/><use href="#di" y="-7.7"/><text class="k" y="-10">Output Parser</text><text class="l" y="11.5">Duration</text></g>
<g id="n-youtube" transform="translate(1417.3,384.7)"><use href="#br"/><use href="#i-yt"/><text class="l" y="13">YouTube</text></g>
<use href="#add" x="1439.7" y="384.7"/>
<g id="n-gmail" transform="translate(1417.3,407.7)"><use href="#br"/><use href="#i-gm"/><text class="l" y="13.7">Gmail</text><text class="u" y="17.7">send: message</text></g>
<use href="#add" x="1439.7" y="407.7"/>
<g id="n-complete" transform="translate(1355.7,403.7)"><use href="#bx"/><use href="#i-sh"/><text class="l" y="13.7">Complete Folder</text><text class="u" y="17.7">update: sheet</text></g>
<g id="n-download" transform="translate(1390.3,403.7)"><use href="#bx"/><use href="#i-gl"/><text class="l" y="13.7">Download Folder</text></g>
<g id="n-webhook2" transform="translate(1259.7,423)"><use href="#bx"/><use href="#i-wh"/><text class="l" y="13.7">Webhook Response</text></g>
<use href="#add" x="1282.3" y="423"/>
<g id="n-slack" transform="translate(1421,446)"><use href="#br"/><use href="#i-sl"/><text class="l" y="13.7">Slack</text><text class="u" y="17.7">post: message</text></g>
<use href="#add" x="1443.7" y="446"/>
<g id="n-switch" transform="translate(1313.7,446.3)"><rect class="bx" x="-9.7" y="-13.6" width="19.4" height="27.2" rx="1.3"/><rect class="h" x="-11" y="-1.4" width="2.2" height="2.8"/><circle class="h" cx="9.7" cy="-8.6" r="1.3"/><circle class="h" cx="9.7" cy="-3" r="1.3"/><circle class="h" cx="9.7" cy="2.7" r="1.3"/><circle class="h" cx="9.7" cy="8.4" r="1.3"/><path d="M-.5-4.5h1v9h-1zM-3.7-3H3.7V-1.2H-3.7zM-3.7.8H3.7V2.6H-3.7z" fill="#4a9ff0"/><text class="l" y="17.5">Switch</text><text class="u" y="21.5">Route Rules</text></g>
<g id="n-failed" transform="translate(1355.7,442)"><use href="#bx"/><use href="#i-sh"/><text class="l" y="13.7">Failed</text><text class="u" y="17.7">update: sheet</text></g>
<use href="#add" x="1378.3" y="442"/>
<g id="n-wait3" transform="translate(1359.7,489)"><use href="#bx"/><use href="#i-wa"/><text class="l" y="13.7">3minutes</text></g>
<g id="n-thumb" transform="translate(467,508)"><use href="#bx"/><use href="#i-br"/><text class="l" y="13.7">Generate Video Images</text></g>
<g id="n-genimg" transform="translate(497.7,503.7)"><use href="#bx"/><use href="#i-gl"/><text class="l" y="13.7">Generate Image</text><text class="u" y="17.7">POST: https://api.piapi.ai/...</text></g>
<g id="n-wait40" transform="translate(524.7,485)"><use href="#bx"/><use href="#i-wa"/><text class="l" y="13.7">Wait 40sec</text></g>
<g id="n-getimg" transform="translate(567,485)"><use href="#bx"/><use href="#i-gl"/><text class="l" y="13.7">Get Image</text></g>
<g id="n-check" transform="translate(605.3,492.3)"><rect class="bx" x="-9.7" y="-9.7" width="19.4" height="19.4" rx="1.3"/><rect class="h" x="-11" y="-1.4" width="2.2" height="2.8"/><circle class="h" cx="9.7" cy="-3.3" r="1.4"/><circle class="h" cx="9.7" cy="3.4" r="1.4"/><use href="#i-if"/><text class="l" y="13.7">Check for failures</text></g>
<g id="n-wait5" transform="translate(648,496.3)"><use href="#bx"/><use href="#i-wa"/><text class="l" y="13.7">Wait 5min</text></g>
<g id="n-i2v" transform="translate(648,535)"><use href="#bx"/><use href="#i-gl"/><text class="l" y="13.7">Image to Video</text><text class="u" y="17.7">POST: https://api.piapi.ai/...</text></g>
<g id="n-wait6" transform="translate(709,553.7)"><use href="#bx"/><use href="#i-wa"/><text class="l" y="13.7">Wait 5min1</text></g>
<g id="n-getv" transform="translate(786,553.7)"><use href="#bp"/><use href="#i-gl"/><text class="l" y="13.7">Get Video</text></g>
<g id="n-fail" transform="translate(840,553.7)"><rect class="bx" x="-9.7" y="-9.7" width="19.4" height="19.4" rx="1.3"/><rect class="h" x="-11" y="-1.4" width="2.2" height="2.8"/><circle class="h" cx="9.7" cy="-3.2" r="1.4"/><circle class="h" cx="9.7" cy="3.3" r="1.4"/><use href="#i-if"/><text class="l" y="13.7">Fail Check</text></g>
<use href="#add" x="866.3" y="557.3"/>
<g id="n-waitk" transform="translate(898,550)"><use href="#bx"/><use href="#i-wa"/><text class="l" y="13.7">Wait</text></g>
<g id="n-match" transform="translate(928.7,585)"><rect class="pu" x="-9.7" y="-9.7" width="19.4" height="19.4" rx="1.3"/><rect class="h" x="-11" y="-4.7" width="2.2" height="2.2"/><rect class="h" x="-11" y="2" width="2.2" height="2.2"/><circle class="h" cx="9.7" r="1.4"/><circle cx="6.8" cy="6.8" r=".9" fill="#5a4fd8"/><use href="#i-me"/><text class="l" y="13.7">Match Captions with</text><text class="l" y="17.7">Videos</text><text class="u" y="21.7">combine</text></g>
<g id="n-genscript" transform="translate(705,635)"><use href="#wb"/><use href="#i-ai" x="-14.8"/><text class="w" x="-6.8" y="-.5">Generate Script</text><text class="wu" x="-6.8" y="3.4">Message Model</text><use href="#di" x="15" y="9.7"/></g>
<use href="#apu" x="720" y="657"/>
<g id="n-genvoice" transform="translate(763.3,635)"><use href="#bx"/><use href="#i-gl"/><text class="l" y="13.7">Generate Voice</text><text class="u" y="17.7">POST: https://api.elevenlabs.io/...</text></g>
<g id="n-upvoice" transform="translate(805.7,635)"><use href="#bx"/><use href="#i-gd"/><text class="l" y="13.7">Upload Voice Audio</text><text class="u" y="17.7">upload: file</text></g>
<g id="n-setperm" transform="translate(848,635)"><use href="#bx"/><use href="#i-gd"/><text class="l" y="13.7">Set Access Permissions</text><text class="u" y="17.7">share: file</text></g>
<g id="n-list" transform="translate(882.3,635)"><use href="#bx"/><use href="#i-br"/><text class="l" y="13.7">List Elements</text></g>
<g id="n-everyday" transform="translate(77.8,603)"><use href="#trg"/><use href="#i-ct"/><text class="l" y="13.7">Every Day Day</text></g>
<g id="n-setapi" transform="translate(120.7,603)"><use href="#bx"/><use href="#i-pe"/><text class="l" y="13.7">Set API Keys</text><text class="u" y="17.7">All Secrets manual</text></g>
<g id="n-loadgs" transform="translate(163,604)"><use href="#bx"/><use href="#i-sh"/><text class="l" y="13.7">Load Google Sheet</text><text class="u" y="17.7">read: sheet</text></g>
<g id="n-gencap" transform="translate(220.3,604)"><use href="#wb"/><use href="#i-ai" x="-15"/><text class="w" x="-6.8" y="-3">Generate Video</text><text class="w" x="-6.8" y=".8">Captions</text><text class="wu" x="-6.8" y="4.6">Message Model</text><use href="#di" x="14.7" y="9.7"/></g>
<g id="n-createlist" transform="translate(255,596)"><use href="#bx"/><use href="#i-br"/><text class="l" y="13.7">Create List</text></g>
<use href="#apu" x="235" y="626.3"/>
<g id="n-handle" transform="translate(363,588.3)"><rect class="bx" x="-9.7" y="-9.7" width="19.4" height="19.4" rx="1.3"/><rect class="h" x="-11" y="-1.4" width="2.2" height="2.8"/><circle class="h" cx="9.7" cy="-3.3" r="1.4"/><circle class="h" cx="9.7" cy="3.4" r="1.4"/><use href="#i-if"/><text class="l" y="13.7">Handle Set Formatting</text></g>
<g id="n-editf" transform="translate(1051.7,565)"><use href="#bx"/><use href="#i-pe"/><text class="l" y="13.7">Edit Fields</text><text class="u" y="17.7">set</text></g>
<use href="#add" x="1074.3" y="565"/>
<g id="n-http" transform="translate(1102,577)"><use href="#bx"/><use href="#i-gl"/><text class="l" y="13.7">HTTP Request</text><text class="u" y="17.7">POST: https://api.creatomate.c...</text></g>
<use href="#add" x="1124.3" y="577"/>
<g id="n-last" transform="translate(974.7,600)"><use href="#bx"/><use href="#i-br"/><text class="l" y="13.7">Last Elements</text></g>
<g id="n-pair" transform="translate(1017,604)"><rect class="bx" x="-9.7" y="-9.7" width="19.4" height="19.4" rx="1.3"/><rect class="h" x="-11" y="-4" width="2.2" height="2.2"/><rect class="h" x="-11" y="2" width="2.2" height="2.2"/><circle class="h" cx="9.7" r="1.4"/><use href="#i-me"/><text class="l" y="13.7">Pair Videos with Audio</text><text class="u" y="17.7">combine</text></g>
<use href="#add" x="1039.3" y="604"/>
<g id="n-final" transform="translate(1144,604)"><use href="#bx"/><use href="#i-gl"/><text class="l" y="13.7">Create Final Video</text><text class="u" y="17.7">POST: https://api.creatomate.c...</text></g>
<g id="n-waitf" transform="translate(1186.7,604)"><use href="#bx"/><use href="#i-wa"/><text class="l" y="13.7">Wait4</text></g>
<g id="n-getfinal" transform="translate(1228.7,604)"><use href="#bx"/><use href="#i-gl"/><text class="l" y="13.7">Get Final Video</text></g>
<g id="n-getraw" transform="translate(1271,604)"><use href="#bx"/><use href="#i-gl"/><text class="l" y="13.7">Get Raw File</text></g>
<g id="n-upfinal" transform="translate(1313.7,604)"><use href="#bx"/><use href="#i-gd"/><text class="l" y="13.7">Upload Final Video</text><text class="u" y="17.7">upload: file</text></g>
<g id="n-perm" transform="translate(1355.7,604)"><use href="#bx"/><use href="#i-gd"/><text class="l" y="13.7">Set Permissions</text><text class="u" y="17.7">share: file</text></g>
<g id="n-upsheet" transform="translate(1397.7,604)"><use href="#bx"/><use href="#i-sh"/><text class="l" y="13.7">Update Google Sheet</text><text class="u" y="17.7">update: sheet</text></g>
<g id="n-discord" transform="translate(1440.3,604)"><use href="#bx"/><use href="#i-dc"/><text class="l" y="13.7">Notify me on Discord</text><text class="u" y="17.7">send/reply: undefined</text></g>
<use href="#add" x="1462.7" y="604"/>
<g id="n-edit2" transform="translate(1474.7,604)"><use href="#bx"/><use href="#i-pe"/><text class="l" y="13.7">Edit Fields</text><text class="u" y="17.7">manual</text></g>
<use href="#add" x="1497.3" y="604"/>
<g id="n-prepinput" transform="translate(1075,623)"><use href="#bx"/><use href="#i-br"/><text class="l" y="13.7">Prepare Input Data</text></g>
<g id="n-compile" transform="translate(1129,642.3)"><use href="#bx"/><use href="#i-te"/><text class="l" y="13.7">Compile Videos</text></g>
<use href="#add" x="1151.3" y="642.3"/>
<g id="agent-handles">
<use href="#di" x="613.3" y="191"/><use href="#di" x="623.3" y="191"/><use href="#di" x="633" y="191"/><use href="#di" x="643" y="191"/><use href="#apu" x="633" y="202.7"/>
<use href="#di" x="613.3" y="259.5"/><use href="#di" x="623.3" y="259.5"/><use href="#di" x="633" y="259.5"/><use href="#di" x="643" y="259.5"/><use href="#apu" x="623.3" y="272.7"/><use href="#apu" x="633" y="272.7"/>
<use href="#di" x="1029" y="155.7"/><use href="#di" x="1038.7" y="155.7"/><use href="#di" x="1048.7" y="155.7"/><use href="#di" x="1058.7" y="155.7"/><use href="#apu" x="1038.7" y="168.3"/><use href="#apu" x="1048.7" y="168.3"/>
<use href="#di" x="909.7" y="336.7"/><use href="#di" x="919.7" y="336.7"/><use href="#di" x="929.3" y="336.7"/><use href="#di" x="939.3" y="336.7"/><use href="#apu" x="919.7" y="349.3"/><use href="#apu" x="929.3" y="349.3"/>
<use href="#di" x="986.7" y="471.3"/><use href="#di" x="996.7" y="471.3"/><use href="#di" x="1006.3" y="471.3"/><use href="#di" x="1016" y="471.3"/><use href="#apu" x="996.3" y="484"/><use href="#apu" x="1006.3" y="484"/>
<use href="#di" x="1063.3" y="471.3"/><use href="#di" x="1073.3" y="471.3"/><use href="#di" x="1083" y="471.3"/><use href="#di" x="1093" y="471.3"/><use href="#apu" x="1073.3" y="484"/><use href="#apu" x="1083" y="484"/>
</g>
</g>
<g id="toolbar">
<rect x="1564.5" y="-8" width="50" height="22" rx="4" fill="#fff" stroke="#9aa0aa" stroke-width=".8"/>
<rect class="tb" x="4.5" y="735.5" width="46" height="45" rx="6"/>
<g fill="none" stroke="#444" stroke-width="2.2"><circle cx="26" cy="756" r="5.5"/><path d="M30 760l4.5 4.5M23 756h6M26 753v6"/></g>
<rect class="tb" x="63.5" y="735.5" width="46" height="45" rx="6"/>
<g fill="none" stroke="#444" stroke-width="2.2"><circle cx="85" cy="756" r="5.5"/><path d="M89 760l4.5 4.5M82 756h6"/></g>
<rect class="tb" x="123" y="735.5" width="46" height="45" rx="6"/>
<path d="M141 753.5a7 7 0 1 1 1.8 7.5M141 749v5h5" fill="none" stroke="#444" stroke-width="1.9"/>
<rect class="tb" x="182" y="735.5" width="46" height="45" rx="6"/>
<path d="M198 765l5-7 5 4-4 6zM205 757l5-6 2 2-5 6" fill="#444"/>
<rect x="690" y="735" width="174" height="46" rx="6" fill="#ff6d5a"/>
<path d="M714.5 750.5h6M716 750.5v5.5l-4.5 8a1.5 1.5 0 0 0 1.3 2.2h9.4a1.5 1.5 0 0 0 1.3-2.2l-4.5-8v-5.5" fill="none" stroke="#fff" stroke-width="1.8"/>
<text x="738" y="764" font-size="15.1" fill="#fff" font-weight="600">Test workflow</text>
</g>
</svg>
